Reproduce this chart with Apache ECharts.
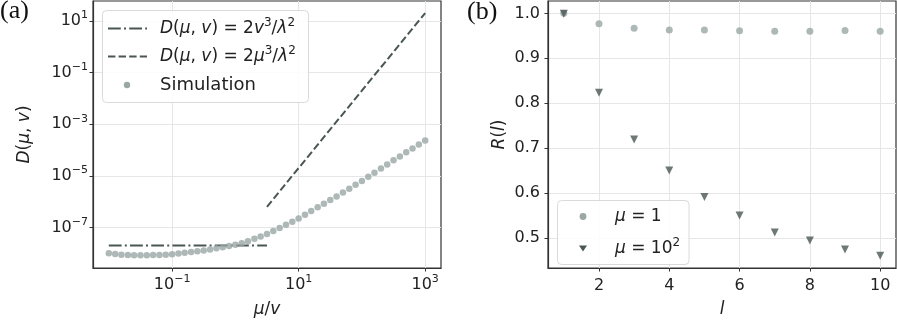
<!DOCTYPE html>
<html>
<head>
<meta charset="UTF-8">
<title>D(mu,v) and R(l)</title>
<script src="https://cdn.jsdelivr.net/npm/echarts@6/dist/echarts.min.js"></script>
<style>
  html, body { margin: 0; padding: 0; background: #fff; }
  #main { width: 897px; height: 323px; }
</style>
</head>
<body>
<div id="main"></div>
<script>
// (a) simulation points, mu/v vs D(mu, v)
var simX = [0.01, 0.0126, 0.0158, 0.02, 0.0251, 0.0316, 0.0398, 0.0501, 0.0631, 0.0794,
            0.1, 0.126, 0.158, 0.2, 0.251, 0.316, 0.398, 0.501, 0.631, 0.794,
            1, 1.26, 1.58, 2, 2.51, 3.16, 3.98, 5.01, 6.31, 7.94,
            10, 12.6, 15.8, 20, 25.1, 31.6, 39.8, 50.1, 63.1, 79.4,
            100, 126, 158, 200, 251, 316, 398, 501, 631, 794, 1000];
var simY = [1.00e-8, 9.3e-9, 8.7e-9, 8.5e-9, 8.3e-9, 8.3e-9, 8.3e-9, 8.5e-9, 8.5e-9, 8.7e-9,
            9.1e-9, 9.8e-9, 1.05e-8, 1.12e-8, 1.20e-8, 1.29e-8, 1.41e-8, 1.55e-8, 1.70e-8, 1.91e-8,
            2.14e-8, 2.45e-8, 2.95e-8, 3.63e-8, 4.47e-8, 5.62e-8, 7.24e-8, 9.55e-8, 1.26e-7, 1.66e-7,
            2.24e-7, 3.09e-7, 4.37e-7, 6.03e-7, 8.32e-7, 1.15e-6, 1.58e-6, 2.24e-6, 3.16e-6, 4.47e-6,
            6.31e-6, 9.12e-6, 1.32e-5, 1.91e-5, 2.75e-5, 3.98e-5, 5.62e-5, 8.13e-5, 1.15e-4, 1.62e-4, 2.34e-4];
// (a) the two limit lines
var vLineX = [0.01, 3.16];
var vLineY = [2e-8, 2e-8];
var muLineX = [3.16, 1000];
var muLineY = [6.3e-7, 20];
var aTicksX = [0.1, 10, 1000];
var aTicksY = [1e-7, 1e-5, 1e-3, 1e-1, 10];

// (b) R(l)
var lVals = [1, 2, 3, 4, 5, 6, 7, 8, 9, 10];
var rMu1 = [1.0, 0.977, 0.967, 0.963, 0.963, 0.961, 0.960, 0.960, 0.962, 0.960];
var rMu100 = [0.999, 0.823, 0.719, 0.650, 0.591, 0.550, 0.512, 0.494, 0.474, 0.460];
var bTicksX = [2, 4, 6, 8, 10];
var bTicksY = [0.5, 0.6, 0.7, 0.8, 0.9, 1.0];

var light = '#9aa8a5';
var dark = '#4a5654';
var txt = '#222';
var font = 'DejaVu Sans';

function pairs(xs, ys) {
    var out = [];
    for (var i = 0; i < xs.length; i++) out.push([xs[i], ys[i]]);
    return out;
}

// 10^n tick labels, superscript done with rich text
function powLabel(v) {
    var e = Math.round(Math.log10(v));
    return '{b|10}{s|' + (e < 0 ? '\u2212' + (-e) : e) + '}';
}
var tickRich = {
    b: { fontFamily: font, fontSize: 16, lineHeight: 22, color: txt },
    s: { fontFamily: font, fontSize: 11, lineHeight: 12, verticalAlign: 'top', color: txt }
};

var italic = { fontStyle: 'italic', fontFamily: font, fontSize: 17, color: txt };

function axisCommon() {
    return {
        axisLine: { show: true, lineStyle: { color: '#333', width: 1.2 } },
        axisTick: { show: true, length: 3.5, lineStyle: { color: '#333', width: 1 } },
        splitLine: { show: true, lineStyle: { color: '#e6e6e6', width: 1 } },
        axisLabel: { color: txt, fontFamily: font, fontSize: 16 }
    };
}

var st = axisCommon();

// legend text rich styles
var legRich = {
    n: { fontFamily: font, fontSize: 17, lineHeight: 24, fill: txt },
    i: { fontStyle: 'italic', fontFamily: font, fontSize: 17, lineHeight: 24, fill: txt },
    s: { fontFamily: font, fontSize: 12, lineHeight: 12, verticalAlign: 'top', fill: txt }
};

var myChart = echarts.init(document.getElementById('main'));
var option = {
    animation: false,
    backgroundColor: '#fff',
    grid: [
        { left: 93, top: 1, width: 348, height: 273, show: true, borderColor: '#333', borderWidth: 1.2 },
        { left: 548, top: 1, width: 348, height: 273, show: true, borderColor: '#333', borderWidth: 1.2 }
    ],
    xAxis: [
        {
            gridIndex: 0, type: 'log', logBase: 10,
            min: Math.pow(10, -2.25), max: Math.pow(10, 3.25),
            axisLine: st.axisLine, splitLine: st.splitLine,
            axisTick: Object.assign({}, st.axisTick, { customValues: aTicksX }),
            axisLabel: Object.assign({}, st.axisLabel, { customValues: aTicksX, margin: 6,
                formatter: powLabel, rich: tickRich }),
            name: '{i|\u03BC}/{i|v}', nameLocation: 'middle', nameGap: 33,
            nameTextStyle: { fontFamily: font, fontSize: 17, color: txt, rich: { i: italic } }
        },
        {
            gridIndex: 1, type: 'value', min: 0.55, max: 10.45,
            axisLine: st.axisLine, splitLine: st.splitLine,
            axisTick: Object.assign({}, st.axisTick, { customValues: bTicksX }),
            axisLabel: Object.assign({}, st.axisLabel, { customValues: bTicksX, margin: 10 }),
            name: '{i|l}', nameLocation: 'middle', nameGap: 33,
            nameTextStyle: { fontFamily: font, fontSize: 17, color: txt, rich: { i: italic } }
        }
    ],
    yAxis: [
        {
            gridIndex: 0, type: 'log', logBase: 10,
            min: Math.pow(10, -8.57), max: Math.pow(10, 1.77),
            axisLine: st.axisLine, splitLine: st.splitLine,
            axisTick: Object.assign({}, st.axisTick, { customValues: aTicksY }),
            axisLabel: Object.assign({}, st.axisLabel, { customValues: aTicksY, margin: 5,
                formatter: powLabel, rich: tickRich }),
            name: '{i|D}({i|\u03BC}, {i|v})', nameLocation: 'middle', nameGap: 60,
            nameTextStyle: { fontFamily: font, fontSize: 17, color: txt, rich: { i: italic } }
        },
        {
            gridIndex: 1, type: 'value', min: 0.433, max: 1.0275,
            axisLine: st.axisLine, splitLine: st.splitLine,
            axisTick: Object.assign({}, st.axisTick, { customValues: bTicksY }),
            axisLabel: Object.assign({}, st.axisLabel, { customValues: bTicksY, margin: 8,
                formatter: function (v) { return v.toFixed(1); } }),
            name: '{i|R}({i|l})', nameLocation: 'middle', nameGap: 40,
            nameTextStyle: { fontFamily: font, fontSize: 17, color: txt, rich: { i: italic } }
        }
    ],
    series: [
        {
            name: 'vline', type: 'line', xAxisIndex: 0, yAxisIndex: 0,
            data: pairs(vLineX, vLineY), symbol: 'none',
            lineStyle: { color: dark, width: 2, type: [12.8, 3.2, 2, 3.2] }, z: 2
        },
        {
            name: 'muline', type: 'line', xAxisIndex: 0, yAxisIndex: 0,
            data: pairs(muLineX, muLineY), symbol: 'none',
            lineStyle: { color: dark, width: 2, type: [7.4, 3.2] }, z: 2
        },
        {
            name: 'Simulation', type: 'scatter', xAxisIndex: 0, yAxisIndex: 0,
            data: pairs(simX, simY), symbol: 'circle', symbolSize: 6.5,
            itemStyle: { color: light }, z: 3
        },
        {
            name: 'mu1', type: 'scatter', xAxisIndex: 1, yAxisIndex: 1,
            data: pairs(lVals, rMu1), symbol: 'circle', symbolSize: 7,
            itemStyle: { color: light }, z: 2
        },
        {
            name: 'mu100', type: 'scatter', xAxisIndex: 1, yAxisIndex: 1,
            data: pairs(lVals, rMu100), symbol: 'triangle', symbolRotate: 180, symbolSize: 8,
            itemStyle: { color: dark }, z: 3
        }
    ],
    graphic: [
        // panel labels
        { type: 'text', x: 0, y: -2, style: { text: '(a)', font: '26px "Liberation Serif"', fill: '#111' } },
        { type: 'text', x: 467, y: -1, style: { text: '(b)', font: '26px "Liberation Serif"', fill: '#111' } },
        // legend (a)
        { type: 'rect', z: 50, shape: { x: 102.5, y: 10.5, width: 206, height: 92, r: 4 },
          style: { fill: 'rgba(255,255,255,0.85)', stroke: '#dadada', lineWidth: 1 } },
        { type: 'line', z: 51, shape: { x1: 108, y1: 28.5, x2: 147, y2: 28.5 },
          style: { stroke: dark, lineWidth: 2, lineDash: [12.8, 3.2, 2, 3.2] } },
        { type: 'line', z: 51, shape: { x1: 108, y1: 56.5, x2: 147, y2: 56.5 },
          style: { stroke: dark, lineWidth: 2, lineDash: [7.4, 3.2] } },
        { type: 'circle', z: 51, shape: { cx: 127, cy: 85, r: 3.2 }, style: { fill: light } },
        { type: 'text', z: 51, x: 160, y: 28.5, style: {
            text: '{i|D}{n|(}{i|\u03BC}{n|, }{i|v}{n|) = 2}{i|v}{s|3}{n|/}{i|\u03BB}{s|2}',
            font: '17px "DejaVu Sans"', fill: txt, verticalAlign: 'middle', rich: legRich } },
        { type: 'text', z: 51, x: 160, y: 56.5, style: {
            text: '{i|D}{n|(}{i|\u03BC}{n|, }{i|v}{n|) = 2}{i|\u03BC}{s|3}{n|/}{i|\u03BB}{s|2}',
            font: '17px "DejaVu Sans"', fill: txt, verticalAlign: 'middle', rich: legRich } },
        { type: 'text', z: 51, x: 160, y: 85, style: {
            text: 'Simulation', font: '18px "DejaVu Sans"', fill: txt, verticalAlign: 'middle' } },
        // legend (b)
        { type: 'rect', z: 50, shape: { x: 557.5, y: 200.5, width: 131.5, height: 64, r: 4 },
          style: { fill: 'rgba(255,255,255,0.85)', stroke: '#dadada', lineWidth: 1 } },
        { type: 'circle', z: 51, shape: { cx: 583, cy: 216.5, r: 3.4 }, style: { fill: light } },
        { type: 'polygon', z: 51, shape: { points: [[579, 245.5], [587, 245.5], [583, 251.5]] },
          style: { fill: dark } },
        { type: 'text', z: 51, x: 615, y: 216.5, style: {
            text: '{i|\u03BC}{n| = 1}', font: '17px "DejaVu Sans"', fill: txt, verticalAlign: 'middle',
            rich: legRich } },
        { type: 'text', z: 51, x: 615, y: 248.5, style: {
            text: '{i|\u03BC}{n| = 10}{s|2}', font: '17px "DejaVu Sans"', fill: txt, verticalAlign: 'middle',
            rich: legRich } }
    ]
};
myChart.setOption(option);
</script>
</body>
</html>
